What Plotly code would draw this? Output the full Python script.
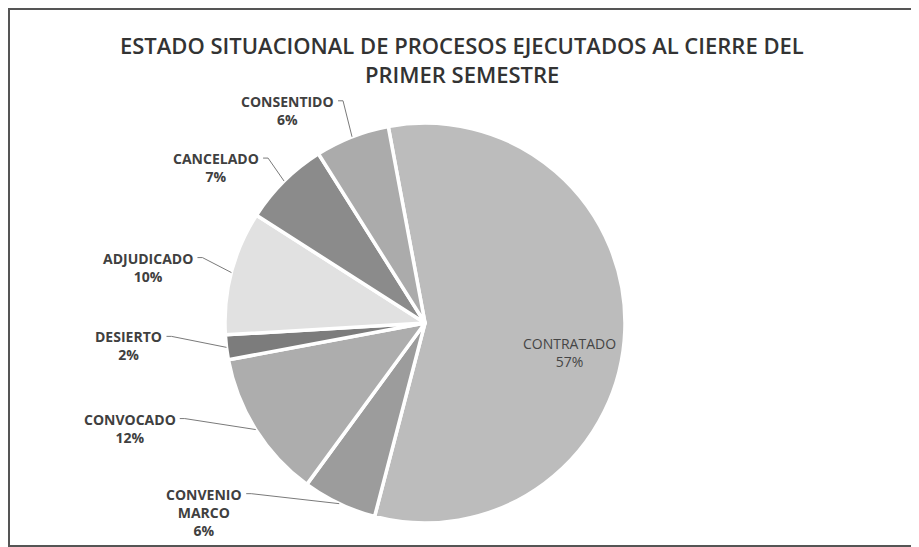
import math
import plotly.graph_objects as go

# data
labels = ["CONTRATADO", "CONVENIO MARCO", "CONVOCADO", "DESIERTO",
          "ADJUDICADO", "CANCELADO", "CONSENTIDO"]
values = [57, 6, 12, 2, 10, 7, 6]
label_text = ["CONTRATADO", "CONVENIO<br>MARCO", "CONVOCADO", "DESIERTO",
              "ADJUDICADO", "CANCELADO", "CONSENTIDO"]
title_lines = ["ESTADO SITUACIONAL DE PROCESOS EJECUTADOS AL CIERRE DEL",
               "PRIMER SEMESTRE"]

# styling
colors = ["#bcbcbc", "#9c9c9c", "#adadad", "#7c7c7c",
          "#e1e1e1", "#8b8b8b", "#ababab"]
W, H = 919, 547
PAGE_OFF = 8                        # browser body margin
CX, CY, R = 425, 323, 200          # pie centre / radius in screen px
ROTATION = -10.6
# leader-line start relative to the slice edge point (px)
leader_offsets = {
    "CONVENIO MARCO": (-93, -10),
    "CONVOCADO": (-76, -11),
    "DESIERTO": (-60, -11),
    "ADJUDICADO": (-34, -15),
    "CANCELADO": (-21, -23),
    "CONSENTIDO": (-14, -36),
}
inside_offset = (1, 24)
FONT = "Open Sans"


def px(x):
    return (x - PAGE_OFF) / W


def py(y):
    return 1 - (y - PAGE_OFF) / H


fig = go.Figure()

fig.add_trace(go.Pie(
    labels=labels,
    values=values,
    sort=False,
    direction="clockwise",
    rotation=ROTATION,
    marker=dict(colors=colors, line=dict(color="white", width=3.5)),
    textinfo="none",
    hoverinfo="label+percent",
    showlegend=False,
    domain=dict(x=[px(CX - R), px(CX + R)], y=[py(CY + R), py(CY - R)]),
))

# labels + leader lines, placed from the slice angles
total = sum(values)
cum = 0
annotations = []
shapes = []
for name, txt, v in zip(labels, label_text, values):
    mid = math.radians(ROTATION + 360 * (cum + v / 2) / total)
    cum += v
    pct = f"{round(100 * v / total)}%"
    if name in leader_offsets:
        ex, ey = CX + R * math.sin(mid), CY - R * math.cos(mid)
        dx, dy = leader_offsets[name]
        sx, sy = ex + dx, ey + dy
        annotations.append(dict(
            x=px(sx - 2), y=py(sy), xref="paper", yref="paper",
            xanchor="right", yanchor="top", yshift=11, align="center",
            text=f"<b>{txt}<br>{pct}</b>", showarrow=False,
            font=dict(family=FONT, size=14, color="#404040"),
        ))
        shapes.append(dict(
            type="path", xref="paper", yref="paper",
            path=f"M {px(sx)} {py(sy)} L {px(sx + 5)} {py(sy)} L {px(ex)} {py(ey)}",
            line=dict(color="#7a7a7a", width=1),
        ))
    else:
        ix = CX + 0.72 * R * math.sin(mid) + inside_offset[0]
        iy = CY - 0.72 * R * math.cos(mid) + inside_offset[1]
        annotations.append(dict(
            x=px(ix), y=py(iy), xref="paper", yref="paper",
            xanchor="center", yanchor="middle",
            text=f"{txt}<br>{pct}", showarrow=False,
            font=dict(family=FONT, size=14, color="#454545"),
        ))

# title
for i, line in enumerate(title_lines):
    annotations.append(dict(
        x=px(462), y=py(45 + 29 * i), xref="paper", yref="paper",
        xanchor="center", yanchor="middle",
        text=line, showarrow=False,
        font=dict(family=FONT, size=22, color="#333333", weight=600),
    ))

# chart frame
shapes.append(dict(type="rect", xref="paper", yref="paper",
                   x0=px(9), y0=py(546), x1=px(930), y1=py(9),
                   line=dict(color="#555555", width=2)))

fig.update_layout(
    width=W, height=H,
    margin=dict(l=0, r=0, t=0, b=0),
    paper_bgcolor="white",
    plot_bgcolor="white",
    annotations=annotations,
    shapes=shapes,
)

fig.write_html("out.html")
